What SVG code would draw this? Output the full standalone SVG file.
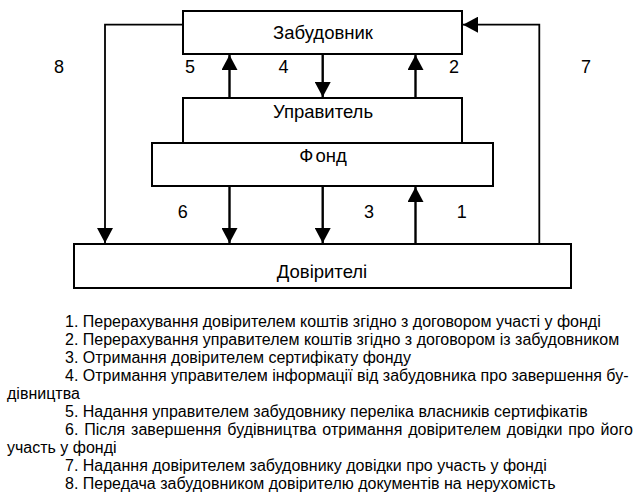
<svg xmlns="http://www.w3.org/2000/svg" width="636" height="497" viewBox="0 0 636 497">
<style>
.box{fill:#fff;stroke:#000;stroke-width:2}
.lbl{font-family:"Liberation Sans",Arial,sans-serif;font-size:18.5px;fill:#000;text-anchor:middle}
.num{font-family:"Liberation Sans",Arial,sans-serif;font-size:18px;fill:#000;text-anchor:middle}
.arr{fill:none;stroke:#000;stroke-width:2.4}
.thin{fill:none;stroke:#000;stroke-width:1.8}
.leg{font-family:"Liberation Sans",Arial,sans-serif;font-size:16px;fill:#000}
</style>
<defs>
<marker id="ah" markerUnits="userSpaceOnUse" markerWidth="16" markerHeight="16" viewBox="0 0 16 16" refX="15" refY="8" orient="auto">
<path d="M0,0 L15,8 L0,16 Z" fill="#000"/>
</marker>
</defs>
<rect width="636" height="497" fill="#fff"/>
<g id="node-zabudovnyk">
<rect class="box" x="183" y="11" width="279" height="43"/>
<text class="lbl" x="323" y="39">Забудовник</text>
</g>
<g id="node-upravytel">
<rect class="box" x="183" y="98" width="279" height="45"/>
<text class="lbl" x="323" y="118">Управитель</text>
</g>
<g id="node-fond">
<rect class="box" x="152" y="143" width="341" height="43"/>
<text class="lbl" x="323" y="161.5">Ф<tspan dx="2">онд</tspan></text>
</g>
<g id="node-dovyriteli">
<rect class="box" x="74" y="244" width="497" height="44"/>
<text class="lbl" x="322" y="278">Довірителі</text>
</g>
<g id="connectors">
<polyline class="thin" points="183,24.7 105,24.7 105,243" marker-end="url(#ah)"/>
<line class="arr" x1="229.5" y1="98" x2="229.5" y2="55" marker-end="url(#ah)"/>
<line class="arr" x1="322.7" y1="54" x2="322.7" y2="97" marker-end="url(#ah)"/>
<line class="arr" x1="415.5" y1="98" x2="415.5" y2="55" marker-end="url(#ah)"/>
<line class="arr" x1="229.5" y1="186" x2="229.5" y2="243" marker-end="url(#ah)"/>
<line class="arr" x1="322.7" y1="186" x2="322.7" y2="243" marker-end="url(#ah)"/>
<line class="arr" x1="415.5" y1="244" x2="415.5" y2="187" marker-end="url(#ah)"/>
<polyline class="thin" points="539.3,244 539.3,24.7 463,24.7" marker-end="url(#ah)"/>
<text class="num" x="59" y="73">8</text>
<text class="num" x="190" y="73">5</text>
<text class="num" x="283.5" y="73">4</text>
<text class="num" x="454" y="73">2</text>
<text class="num" x="586" y="73">7</text>
<text class="num" x="182.7" y="218.3">6</text>
<text class="num" x="369" y="218.3">3</text>
<text class="num" x="461.7" y="218.3">1</text>
</g>
<g id="legend">
<text class="leg" x="65" y="327">1. Перерахування довірителем коштів згідно з договором участі у фонді</text>
<text class="leg" x="65" y="345">2. Перерахування управителем коштів згідно з договором із забудовником</text>
<text class="leg" x="65" y="363">3. Отримання довірителем сертифікату фонду</text>
<text class="leg" x="65" y="381">4. Отримання управителем інформації від забудовника про завершення бу-</text>
<text class="leg" x="7" y="399">дівництва</text>
<text class="leg" x="65" y="417">5. Надання управителем забудовнику переліка власників сертифікатів</text>
<text class="leg" x="65" y="435" word-spacing="1.4">6. Після завершення будівництва отримання довірителем довідки про його</text>
<text class="leg" x="7" y="453">участь у фонді</text>
<text class="leg" x="65" y="471">7. Надання довірителем забудовнику довідки про участь у фонді</text>
<text class="leg" x="65" y="489">8. Передача забудовником довірителю документів на нерухомість</text>
</g>
</svg>
